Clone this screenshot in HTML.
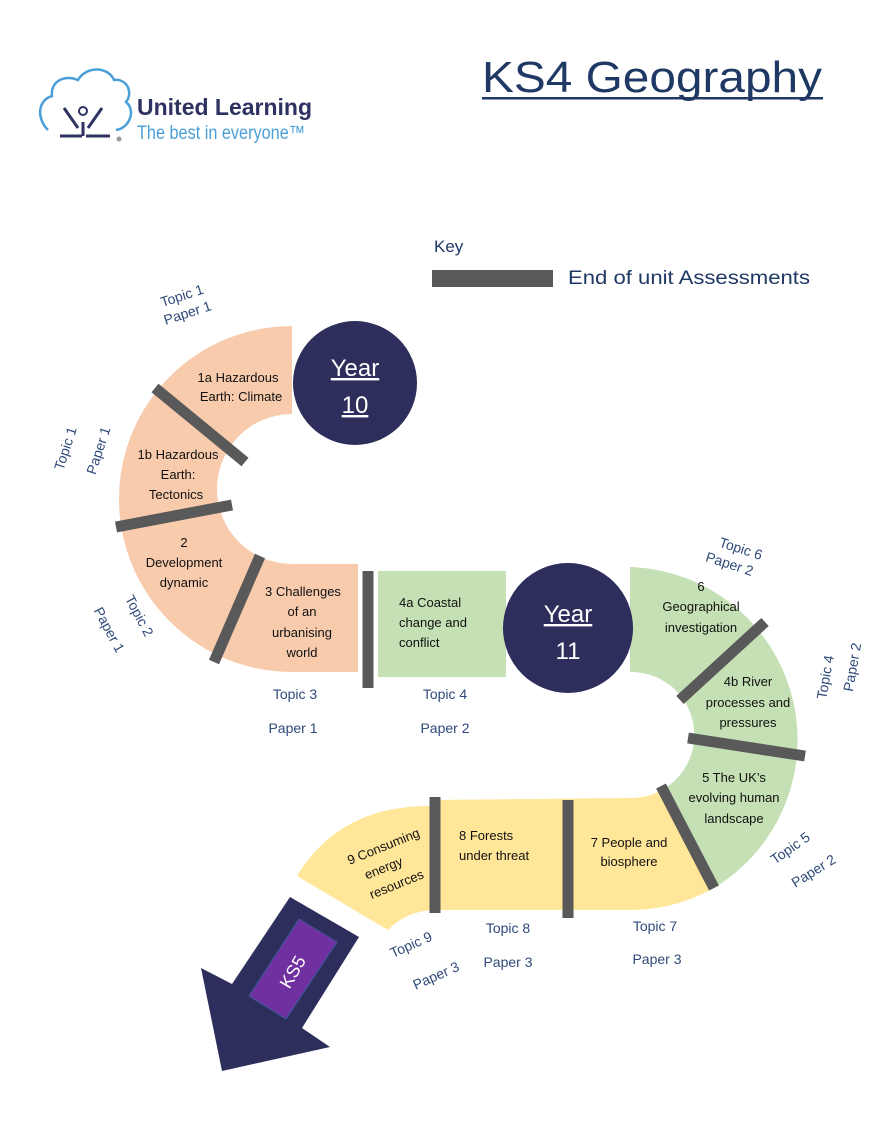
<!DOCTYPE html>
<html><head><meta charset="utf-8"><style>
html,body{margin:0;padding:0;background:#fff;}
svg{display:block;font-family:"Liberation Sans",sans-serif;}
.s{font-size:13px;fill:#111;text-anchor:middle;}
.l{font-size:14px;fill:#2f4a7a;text-anchor:middle;}
</style></head><body>
<svg width="889" height="1125" viewBox="0 0 889 1125" xmlns="http://www.w3.org/2000/svg">
<rect width="889" height="1125" fill="#fff"/>
<!-- logo -->
<path d="M48,130 C36,118 38,100 52,96 C50,82 64,74 78,80 C86,66 108,66 114,80 C126,78 134,92 126,102 C136,110 130,128 116,130" fill="none" stroke="#4a9fd8" stroke-width="2.5"/>
<path d="M64,108 L78,128 M102,108 L88,128 M60,136 L82,136 M86,136 L110,136 M83,122 L83,136" stroke="#2e3260" stroke-width="3" fill="none"/>
<circle cx="83" cy="111" r="4" fill="none" stroke="#2e3260" stroke-width="2"/>
<circle cx="119" cy="139" r="2.5" fill="#999"/>
<text x="137" y="115" font-size="23" font-weight="bold" fill="#2e3260" textLength="175" lengthAdjust="spacingAndGlyphs">United Learning</text>
<text x="137" y="139" font-size="19" fill="#4a9fd8" textLength="168" lengthAdjust="spacingAndGlyphs">The best in everyone™</text>
<!-- title -->
<text x="482" y="92" font-size="44" fill="#1f3864" textLength="340" lengthAdjust="spacingAndGlyphs">KS4 Geography</text>
<rect x="482" y="97" width="341" height="2.5" fill="#1f3864"/>
<!-- key -->
<text x="434" y="252" font-size="17" fill="#1f3864">Key</text>
<rect x="432" y="270" width="121" height="17" fill="#595959"/>
<text x="568" y="284" font-size="19" fill="#1f3864" textLength="242" lengthAdjust="spacingAndGlyphs">End of unit Assessments</text>
<!-- peach arc -->
<path d="M292,326 A173,173 0 0 0 292,672 L358,672 L358,564 L292,564 A75,75 0 0 1 292,414 Z" fill="#f8cbad"/>
<!-- green box -->
<rect x="378" y="571" width="128" height="106" fill="#c5e0b4"/>
<!-- green right arc -->
<path d="M630,567 A173,173 0 0 1 714,888 L662,790 A63,63 0 0 0 630,672 Z" fill="#c5e0b4"/>
<!-- yellow -->
<path d="M430,800 L630,798 A63,63 0 0 0 662,790 L714,888 A173,173 0 0 1 630,910 L430,910 Z" fill="#ffe699"/>
<path d="M432,806 Q340,805 297,876 L388,930 Q405,912 432,910 Z" fill="#ffe699"/>
<!-- dividers -->
<g stroke="#595959" stroke-width="11">
<line x1="155" y1="388" x2="245" y2="462"/>
<line x1="116" y1="527" x2="232" y2="505"/>
<line x1="214" y1="662" x2="260" y2="556"/>
<line x1="368" y1="571" x2="368" y2="688"/>
<line x1="765" y1="622" x2="680" y2="700"/>
<line x1="688" y1="738" x2="805" y2="756"/>
<line x1="661" y1="786" x2="714" y2="888"/>
<line x1="568" y1="800" x2="568" y2="918"/>
<line x1="435" y1="797" x2="435" y2="913"/>
</g>
<!-- circles -->
<circle cx="355" cy="383" r="62" fill="#2e2e5c"/>
<text x="355" y="376" font-size="24" fill="#fff" text-anchor="middle" text-decoration="underline">Year</text>
<text x="355" y="413" font-size="24" fill="#fff" text-anchor="middle" text-decoration="underline">10</text>
<circle cx="568" cy="628" r="65" fill="#2e2e5c"/>
<text x="568" y="622" font-size="24" fill="#fff" text-anchor="middle" text-decoration="underline">Year</text>
<text x="568" y="659" font-size="24" fill="#fff" text-anchor="middle">11</text>
<!-- segment text -->
<text class="s" x="238" y="382">1a Hazardous</text><text class="s" x="241" y="401">Earth: Climate</text>
<text class="s" x="178" y="459">1b Hazardous</text><text class="s" x="178" y="479">Earth:</text><text class="s" x="176" y="499">Tectonics</text>
<text class="s" x="184" y="547">2</text><text class="s" x="184" y="567">Development</text><text class="s" x="184" y="587">dynamic</text>
<text class="s" x="303" y="596">3 Challenges</text><text class="s" x="302" y="616">of an</text><text class="s" x="302" y="637">urbanising</text><text class="s" x="302" y="657">world</text>
<text class="s" x="399" y="607" style="text-anchor:start">4a Coastal</text><text class="s" x="399" y="627" style="text-anchor:start">change and</text><text class="s" x="399" y="647" style="text-anchor:start">conflict</text>
<text class="s" x="701" y="591">6</text><text class="s" x="701" y="611">Geographical</text><text class="s" x="701" y="632">investigation</text>
<text class="s" x="748" y="686">4b River</text><text class="s" x="748" y="707">processes and</text><text class="s" x="748" y="727">pressures</text>
<text class="s" x="734" y="782">5 The UK’s</text><text class="s" x="734" y="802">evolving human</text><text class="s" x="734" y="823">landscape</text>
<text class="s" x="629" y="847">7 People and</text><text class="s" x="629" y="866">biosphere</text>
<text class="s" x="459" y="840" style="text-anchor:start">8 Forests</text><text class="s" x="459" y="860" style="text-anchor:start">under threat</text>
<g transform="rotate(-22 390 868)"><text class="s" x="392" y="850">9 Consuming</text><text class="s" x="384" y="870">energy</text><text class="s" x="390" y="890">resources</text></g>
<!-- topic labels -->
<g transform="rotate(-18 185 305)"><text class="l" x="185" y="300">Topic 1</text><text class="l" x="185" y="318">Paper 1</text></g>
<text class="l" transform="translate(70,450) rotate(-72)">Topic 1</text>
<text class="l" transform="translate(103,452) rotate(-72)">Paper 1</text>
<text class="l" transform="translate(135,618) rotate(62)">Topic 2</text>
<text class="l" transform="translate(105,632) rotate(62)">Paper 1</text>
<text class="l" x="295" y="699">Topic 3</text><text class="l" x="293" y="733">Paper 1</text>
<text class="l" x="445" y="699">Topic 4</text><text class="l" x="445" y="733">Paper 2</text>
<g transform="rotate(18 735 557)"><text class="l" x="738" y="552">Topic 6</text><text class="l" x="732" y="570">Paper  2</text></g>
<text class="l" transform="translate(830,678) rotate(-80)">Topic 4</text>
<text class="l" transform="translate(857,668) rotate(-80)">Paper 2</text>
<text class="l" transform="translate(793,852) rotate(-35)">Topic 5</text>
<text class="l" transform="translate(816,875) rotate(-32)">Paper 2</text>
<text class="l" x="655" y="931">Topic 7</text><text class="l" x="657" y="964">Paper 3</text>
<text class="l" x="508" y="933">Topic 8</text><text class="l" x="508" y="967">Paper 3</text>
<text class="l" transform="translate(413,949) rotate(-24)">Topic 9</text>
<text class="l" transform="translate(438,980) rotate(-24)">Paper 3</text>
<!-- arrow -->
<polygon points="290,897 359,937 302,1028 330,1047 222,1071 201,968 232,984" fill="#2e2e5c"/>
<polygon points="299,919 337,942 286,1019 249,996" fill="#7030a0" stroke="#3a5a9a" stroke-width="1"/>
<text x="0" y="0" font-size="18" fill="#fff" text-anchor="middle" transform="translate(298,975) rotate(-60)">KS5</text>
</svg>
</body></html>
